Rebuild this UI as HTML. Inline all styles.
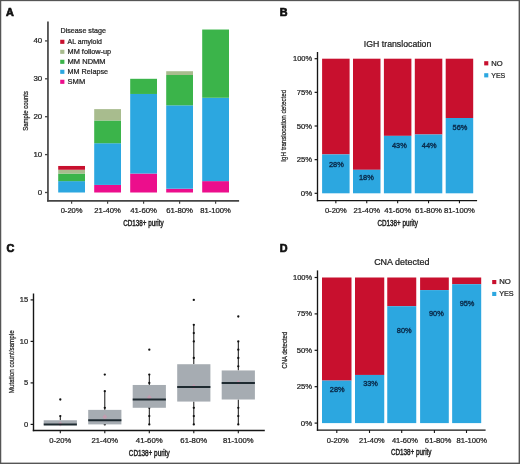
<!DOCTYPE html>
<html><head><meta charset="utf-8"><style>
html,body{margin:0;padding:0;background:#fff;}
svg{display:block;will-change:transform;}
text{font-family:"Liberation Sans",sans-serif;}
</style></head><body>
<svg width="520" height="464" viewBox="0 0 520 464" shape-rendering="auto">
<rect x="0" y="0" width="520" height="464" fill="#fff"/>
<text x="6.10" y="15.90" font-size="10.8" text-anchor="start" fill="#111" font-weight="bold" stroke="#111" stroke-width="0.7">A</text>
<line x1="47.95" y1="21.50" x2="47.95" y2="201.60" stroke="#444" stroke-width="1.7"/>
<line x1="47.10" y1="200.80" x2="239.10" y2="200.80" stroke="#444" stroke-width="1.8"/>
<line x1="45.00" y1="192.50" x2="47.95" y2="192.50" stroke="#444" stroke-width="1.3"/>
<text x="42.20" y="195.00" font-size="7" text-anchor="end" fill="#262626" font-weight="normal" textLength="4.40" lengthAdjust="spacingAndGlyphs" stroke="#262626" stroke-width="0.24">0</text>
<line x1="45.00" y1="154.60" x2="47.95" y2="154.60" stroke="#444" stroke-width="1.3"/>
<text x="42.20" y="157.10" font-size="7" text-anchor="end" fill="#262626" font-weight="normal" textLength="8.80" lengthAdjust="spacingAndGlyphs" stroke="#262626" stroke-width="0.24">10</text>
<line x1="45.00" y1="116.70" x2="47.95" y2="116.70" stroke="#444" stroke-width="1.3"/>
<text x="42.20" y="119.20" font-size="7" text-anchor="end" fill="#262626" font-weight="normal" textLength="8.80" lengthAdjust="spacingAndGlyphs" stroke="#262626" stroke-width="0.24">20</text>
<line x1="45.00" y1="78.80" x2="47.95" y2="78.80" stroke="#444" stroke-width="1.3"/>
<text x="42.20" y="81.30" font-size="7" text-anchor="end" fill="#262626" font-weight="normal" textLength="8.80" lengthAdjust="spacingAndGlyphs" stroke="#262626" stroke-width="0.24">30</text>
<line x1="45.00" y1="40.90" x2="47.95" y2="40.90" stroke="#444" stroke-width="1.3"/>
<text x="42.20" y="43.40" font-size="7" text-anchor="end" fill="#262626" font-weight="normal" textLength="8.80" lengthAdjust="spacingAndGlyphs" stroke="#262626" stroke-width="0.24">40</text>
<rect x="58.20" y="181.13" width="26.80" height="11.37" fill="#2CA7E0"/>
<rect x="58.20" y="173.55" width="26.80" height="7.58" fill="#3BB44A"/>
<rect x="58.20" y="169.76" width="26.80" height="3.79" fill="#A8BC8E"/>
<rect x="58.20" y="165.97" width="26.80" height="3.79" fill="#C8102E"/>
<line x1="71.60" y1="200.80" x2="71.60" y2="203.80" stroke="#444" stroke-width="1.2"/>
<text x="71.60" y="213.30" font-size="7" text-anchor="middle" fill="#262626" font-weight="normal" textLength="21.90" lengthAdjust="spacingAndGlyphs" stroke="#262626" stroke-width="0.24">0-20%</text>
<rect x="94.20" y="184.92" width="26.80" height="7.58" fill="#EC0E8C"/>
<rect x="94.20" y="143.23" width="26.80" height="41.69" fill="#2CA7E0"/>
<rect x="94.20" y="120.49" width="26.80" height="22.74" fill="#3BB44A"/>
<rect x="94.20" y="109.12" width="26.80" height="11.37" fill="#A8BC8E"/>
<line x1="107.60" y1="200.80" x2="107.60" y2="203.80" stroke="#444" stroke-width="1.2"/>
<text x="107.60" y="213.30" font-size="7" text-anchor="middle" fill="#262626" font-weight="normal" textLength="26.50" lengthAdjust="spacingAndGlyphs" stroke="#262626" stroke-width="0.24">21-40%</text>
<rect x="130.20" y="173.55" width="26.80" height="18.95" fill="#EC0E8C"/>
<rect x="130.20" y="93.96" width="26.80" height="79.59" fill="#2CA7E0"/>
<rect x="130.20" y="78.80" width="26.80" height="15.16" fill="#3BB44A"/>
<line x1="143.60" y1="200.80" x2="143.60" y2="203.80" stroke="#444" stroke-width="1.2"/>
<text x="143.60" y="213.30" font-size="7" text-anchor="middle" fill="#262626" font-weight="normal" textLength="26.90" lengthAdjust="spacingAndGlyphs" stroke="#262626" stroke-width="0.24">41-60%</text>
<rect x="166.20" y="188.71" width="26.80" height="3.79" fill="#EC0E8C"/>
<rect x="166.20" y="105.33" width="26.80" height="83.38" fill="#2CA7E0"/>
<rect x="166.20" y="75.01" width="26.80" height="30.32" fill="#3BB44A"/>
<rect x="166.20" y="71.22" width="26.80" height="3.79" fill="#A8BC8E"/>
<line x1="179.60" y1="200.80" x2="179.60" y2="203.80" stroke="#444" stroke-width="1.2"/>
<text x="179.60" y="213.30" font-size="7" text-anchor="middle" fill="#262626" font-weight="normal" textLength="26.90" lengthAdjust="spacingAndGlyphs" stroke="#262626" stroke-width="0.24">61-80%</text>
<rect x="202.20" y="181.13" width="26.80" height="11.37" fill="#EC0E8C"/>
<rect x="202.20" y="97.75" width="26.80" height="83.38" fill="#2CA7E0"/>
<rect x="202.20" y="29.53" width="26.80" height="68.22" fill="#3BB44A"/>
<line x1="215.60" y1="200.80" x2="215.60" y2="203.80" stroke="#444" stroke-width="1.2"/>
<text x="215.60" y="213.30" font-size="7" text-anchor="middle" fill="#262626" font-weight="normal" textLength="30.70" lengthAdjust="spacingAndGlyphs" stroke="#262626" stroke-width="0.24">81-100%</text>
<text x="143.45" y="225.90" font-size="8.2" text-anchor="middle" fill="#222" font-weight="normal" textLength="40.40" lengthAdjust="spacingAndGlyphs" stroke="#222" stroke-width="0.42">CD138+ purity</text>
<text x="28.00" y="110.90" font-size="7.9" text-anchor="middle" fill="#222" font-weight="normal" textLength="39.60" lengthAdjust="spacingAndGlyphs" transform="rotate(-90 28.00 110.90)" stroke="#222" stroke-width="0.24">Sample counts</text>
<text x="60.50" y="32.60" font-size="7.1" text-anchor="start" fill="#262626" font-weight="normal" textLength="45.40" lengthAdjust="spacingAndGlyphs" stroke="#262626" stroke-width="0.24">Disease stage</text>
<rect x="60.20" y="39.75" width="4.20" height="4.10" fill="#C8102E"/>
<text x="67.60" y="44.40" font-size="7.3" text-anchor="start" fill="#262626" font-weight="normal" textLength="34.30" lengthAdjust="spacingAndGlyphs" stroke="#262626" stroke-width="0.24">AL amyloid</text>
<rect x="60.20" y="49.75" width="4.20" height="4.10" fill="#A8BC8E"/>
<text x="67.60" y="54.40" font-size="7.3" text-anchor="start" fill="#262626" font-weight="normal" textLength="43.60" lengthAdjust="spacingAndGlyphs" stroke="#262626" stroke-width="0.24">MM follow-up</text>
<rect x="60.20" y="59.75" width="4.20" height="4.10" fill="#3BB44A"/>
<text x="67.60" y="64.40" font-size="7.3" text-anchor="start" fill="#262626" font-weight="normal" textLength="38.00" lengthAdjust="spacingAndGlyphs" stroke="#262626" stroke-width="0.24">MM NDMM</text>
<rect x="60.20" y="69.75" width="4.20" height="4.10" fill="#2CA7E0"/>
<text x="67.60" y="74.40" font-size="7.3" text-anchor="start" fill="#262626" font-weight="normal" textLength="40.50" lengthAdjust="spacingAndGlyphs" stroke="#262626" stroke-width="0.24">MM Relapse</text>
<rect x="60.20" y="79.75" width="4.20" height="4.10" fill="#EC0E8C"/>
<text x="67.60" y="84.40" font-size="7.3" text-anchor="start" fill="#262626" font-weight="normal" textLength="17.60" lengthAdjust="spacingAndGlyphs" stroke="#262626" stroke-width="0.24">SMM</text>
<text x="279.70" y="15.90" font-size="10.8" text-anchor="start" fill="#111" font-weight="bold" stroke="#111" stroke-width="0.7">B</text>
<line x1="317.50" y1="52.00" x2="317.50" y2="201.30" stroke="#151515" stroke-width="1.35"/>
<line x1="316.85" y1="200.65" x2="477.10" y2="200.65" stroke="#151515" stroke-width="1.35"/>
<line x1="314.60" y1="193.30" x2="317.50" y2="193.30" stroke="#151515" stroke-width="1.2"/>
<text x="312.20" y="195.80" font-size="7" text-anchor="end" fill="#262626" font-weight="normal" textLength="11.40" lengthAdjust="spacingAndGlyphs" stroke="#262626" stroke-width="0.24">0%</text>
<line x1="314.60" y1="159.65" x2="317.50" y2="159.65" stroke="#151515" stroke-width="1.2"/>
<text x="312.20" y="162.15" font-size="7" text-anchor="end" fill="#262626" font-weight="normal" textLength="15.40" lengthAdjust="spacingAndGlyphs" stroke="#262626" stroke-width="0.24">25%</text>
<line x1="314.60" y1="126.00" x2="317.50" y2="126.00" stroke="#151515" stroke-width="1.2"/>
<text x="312.20" y="128.50" font-size="7" text-anchor="end" fill="#262626" font-weight="normal" textLength="15.40" lengthAdjust="spacingAndGlyphs" stroke="#262626" stroke-width="0.24">50%</text>
<line x1="314.60" y1="92.35" x2="317.50" y2="92.35" stroke="#151515" stroke-width="1.2"/>
<text x="312.20" y="94.85" font-size="7" text-anchor="end" fill="#262626" font-weight="normal" textLength="15.40" lengthAdjust="spacingAndGlyphs" stroke="#262626" stroke-width="0.24">75%</text>
<line x1="314.60" y1="58.70" x2="317.50" y2="58.70" stroke="#151515" stroke-width="1.2"/>
<text x="312.20" y="61.20" font-size="7" text-anchor="end" fill="#262626" font-weight="normal" textLength="19.20" lengthAdjust="spacingAndGlyphs" stroke="#262626" stroke-width="0.24">100%</text>
<rect x="322.10" y="58.70" width="27.50" height="95.70" fill="#C8102E"/>
<rect x="322.10" y="154.40" width="27.50" height="38.90" fill="#2CA7E0"/>
<text x="336.40" y="166.80" font-size="7.2" text-anchor="middle" fill="#0a2c4c" font-weight="normal" textLength="14.80" lengthAdjust="spacingAndGlyphs" stroke="#0a2c4c" stroke-width="0.38">28%</text>
<line x1="335.85" y1="200.65" x2="335.85" y2="203.30" stroke="#151515" stroke-width="1.1"/>
<text x="335.85" y="213.30" font-size="7" text-anchor="middle" fill="#262626" font-weight="normal" textLength="21.90" lengthAdjust="spacingAndGlyphs" stroke="#262626" stroke-width="0.24">0-20%</text>
<rect x="353.00" y="58.70" width="27.50" height="111.10" fill="#C8102E"/>
<rect x="353.00" y="169.80" width="27.50" height="23.50" fill="#2CA7E0"/>
<text x="366.40" y="180.05" font-size="7.2" text-anchor="middle" fill="#0a2c4c" font-weight="normal" textLength="14.80" lengthAdjust="spacingAndGlyphs" stroke="#0a2c4c" stroke-width="0.38">18%</text>
<line x1="366.75" y1="200.65" x2="366.75" y2="203.30" stroke="#151515" stroke-width="1.1"/>
<text x="366.75" y="213.30" font-size="7" text-anchor="middle" fill="#262626" font-weight="normal" textLength="26.50" lengthAdjust="spacingAndGlyphs" stroke="#262626" stroke-width="0.24">21-40%</text>
<rect x="383.90" y="58.70" width="27.50" height="77.15" fill="#C8102E"/>
<rect x="383.90" y="135.85" width="27.50" height="57.45" fill="#2CA7E0"/>
<text x="399.40" y="147.50" font-size="7.2" text-anchor="middle" fill="#0a2c4c" font-weight="normal" textLength="14.80" lengthAdjust="spacingAndGlyphs" stroke="#0a2c4c" stroke-width="0.38">43%</text>
<line x1="397.65" y1="200.65" x2="397.65" y2="203.30" stroke="#151515" stroke-width="1.1"/>
<text x="397.65" y="213.30" font-size="7" text-anchor="middle" fill="#262626" font-weight="normal" textLength="26.90" lengthAdjust="spacingAndGlyphs" stroke="#262626" stroke-width="0.24">41-60%</text>
<rect x="414.80" y="58.70" width="27.50" height="75.80" fill="#C8102E"/>
<rect x="414.80" y="134.50" width="27.50" height="58.80" fill="#2CA7E0"/>
<text x="429.25" y="147.75" font-size="7.2" text-anchor="middle" fill="#0a2c4c" font-weight="normal" textLength="14.80" lengthAdjust="spacingAndGlyphs" stroke="#0a2c4c" stroke-width="0.38">44%</text>
<line x1="428.55" y1="200.65" x2="428.55" y2="203.30" stroke="#151515" stroke-width="1.1"/>
<text x="428.55" y="213.30" font-size="7" text-anchor="middle" fill="#262626" font-weight="normal" textLength="26.90" lengthAdjust="spacingAndGlyphs" stroke="#262626" stroke-width="0.24">61-80%</text>
<rect x="445.70" y="58.70" width="27.50" height="59.30" fill="#C8102E"/>
<rect x="445.70" y="118.00" width="27.50" height="75.30" fill="#2CA7E0"/>
<text x="460.00" y="130.10" font-size="7.2" text-anchor="middle" fill="#0a2c4c" font-weight="normal" textLength="14.80" lengthAdjust="spacingAndGlyphs" stroke="#0a2c4c" stroke-width="0.38">56%</text>
<line x1="459.45" y1="200.65" x2="459.45" y2="203.30" stroke="#151515" stroke-width="1.1"/>
<text x="459.45" y="213.30" font-size="7" text-anchor="middle" fill="#262626" font-weight="normal" textLength="30.70" lengthAdjust="spacingAndGlyphs" stroke="#262626" stroke-width="0.24">81-100%</text>
<text x="397.60" y="46.80" font-size="8.8" text-anchor="middle" fill="#222" font-weight="normal" textLength="67.50" lengthAdjust="spacingAndGlyphs" stroke="#222" stroke-width="0.24">IGH translocation</text>
<text x="397.65" y="225.90" font-size="8.2" text-anchor="middle" fill="#222" font-weight="normal" textLength="40.30" lengthAdjust="spacingAndGlyphs" stroke="#222" stroke-width="0.42">CD138+ purity</text>
<text x="286.40" y="125.80" font-size="7.8" text-anchor="middle" fill="#222" font-weight="normal" textLength="71.80" lengthAdjust="spacingAndGlyphs" transform="rotate(-90 286.40 125.80)" stroke="#222" stroke-width="0.24">IgH translocation detected</text>
<rect x="484.20" y="61.20" width="4.10" height="4.20" fill="#C8102E"/>
<text x="491.20" y="65.60" font-size="7.4" text-anchor="start" fill="#262626" font-weight="normal" textLength="11.40" lengthAdjust="spacingAndGlyphs" stroke="#262626" stroke-width="0.24">NO</text>
<rect x="484.20" y="73.20" width="4.10" height="4.20" fill="#2CA7E0"/>
<text x="491.20" y="77.60" font-size="7.4" text-anchor="start" fill="#262626" font-weight="normal" textLength="14.10" lengthAdjust="spacingAndGlyphs" stroke="#262626" stroke-width="0.24">YES</text>
<text x="6.50" y="251.60" font-size="10.8" text-anchor="start" fill="#111" font-weight="bold" stroke="#111" stroke-width="0.7">C</text>
<line x1="33.50" y1="293.50" x2="33.50" y2="431.20" stroke="#151515" stroke-width="1.4"/>
<line x1="32.80" y1="430.50" x2="264.80" y2="430.50" stroke="#151515" stroke-width="1.4"/>
<line x1="30.60" y1="424.40" x2="33.50" y2="424.40" stroke="#151515" stroke-width="1.2"/>
<text x="28.10" y="426.90" font-size="7" text-anchor="end" fill="#262626" font-weight="normal" textLength="4.20" lengthAdjust="spacingAndGlyphs" stroke="#262626" stroke-width="0.24">0</text>
<line x1="30.60" y1="382.90" x2="33.50" y2="382.90" stroke="#151515" stroke-width="1.2"/>
<text x="28.10" y="385.40" font-size="7" text-anchor="end" fill="#262626" font-weight="normal" textLength="4.20" lengthAdjust="spacingAndGlyphs" stroke="#262626" stroke-width="0.24">5</text>
<line x1="30.60" y1="341.40" x2="33.50" y2="341.40" stroke="#151515" stroke-width="1.2"/>
<text x="28.10" y="343.90" font-size="7" text-anchor="end" fill="#262626" font-weight="normal" textLength="8.40" lengthAdjust="spacingAndGlyphs" stroke="#262626" stroke-width="0.24">10</text>
<line x1="30.60" y1="299.90" x2="33.50" y2="299.90" stroke="#151515" stroke-width="1.2"/>
<text x="28.10" y="302.40" font-size="7" text-anchor="end" fill="#262626" font-weight="normal" textLength="8.40" lengthAdjust="spacingAndGlyphs" stroke="#262626" stroke-width="0.24">15</text>
<circle cx="60.30" cy="416.10" r="1.15" fill="#111"/>
<circle cx="60.30" cy="399.50" r="1.15" fill="#111"/>
<line x1="60.30" y1="416.10" x2="60.30" y2="420.25" stroke="#111" stroke-width="1.0"/>
<line x1="60.30" y1="424.40" x2="60.30" y2="424.40" stroke="#111" stroke-width="1.0"/>
<rect x="43.70" y="420.25" width="33.20" height="4.15" fill="#A6ACB2"/>
<path d="M60.30 421.38 L62.70 423.98 L60.30 426.58 L57.90 423.98 Z" fill="#E58AAE" fill-opacity="0.45"/>
<line x1="43.70" y1="424.40" x2="76.90" y2="424.40" stroke="#1E2A30" stroke-width="2.0"/>
<line x1="60.30" y1="430.50" x2="60.30" y2="433.20" stroke="#151515" stroke-width="1.1"/>
<text x="60.30" y="443.10" font-size="7" text-anchor="middle" fill="#262626" font-weight="normal" textLength="21.90" lengthAdjust="spacingAndGlyphs" stroke="#262626" stroke-width="0.24">0-20%</text>
<circle cx="104.80" cy="424.40" r="1.15" fill="#111"/>
<circle cx="104.80" cy="416.10" r="1.15" fill="#111"/>
<circle cx="104.80" cy="407.80" r="1.15" fill="#111"/>
<circle cx="104.80" cy="391.20" r="1.15" fill="#111"/>
<circle cx="104.80" cy="374.60" r="1.15" fill="#111"/>
<line x1="104.80" y1="391.20" x2="104.80" y2="409.88" stroke="#111" stroke-width="1.0"/>
<line x1="104.80" y1="424.40" x2="104.80" y2="424.40" stroke="#111" stroke-width="1.0"/>
<rect x="88.20" y="409.88" width="33.20" height="14.52" fill="#A6ACB2"/>
<path d="M104.80 414.33 L107.20 416.93 L104.80 419.53 L102.40 416.93 Z" fill="#E58AAE" fill-opacity="0.45"/>
<line x1="88.20" y1="420.25" x2="121.40" y2="420.25" stroke="#1E2A30" stroke-width="2.0"/>
<line x1="104.80" y1="430.50" x2="104.80" y2="433.20" stroke="#151515" stroke-width="1.1"/>
<text x="104.80" y="443.10" font-size="7" text-anchor="middle" fill="#262626" font-weight="normal" textLength="26.50" lengthAdjust="spacingAndGlyphs" stroke="#262626" stroke-width="0.24">21-40%</text>
<circle cx="149.30" cy="424.40" r="1.15" fill="#111"/>
<circle cx="149.30" cy="416.10" r="1.15" fill="#111"/>
<circle cx="149.30" cy="407.80" r="1.15" fill="#111"/>
<circle cx="149.30" cy="382.90" r="1.15" fill="#111"/>
<circle cx="149.30" cy="374.60" r="1.15" fill="#111"/>
<circle cx="149.30" cy="349.70" r="1.15" fill="#111"/>
<line x1="149.30" y1="374.60" x2="149.30" y2="384.97" stroke="#111" stroke-width="1.0"/>
<line x1="149.30" y1="407.80" x2="149.30" y2="424.40" stroke="#111" stroke-width="1.0"/>
<rect x="132.70" y="384.97" width="33.20" height="22.82" fill="#A6ACB2"/>
<path d="M149.30 394.82 L151.70 397.42 L149.30 400.02 L146.90 397.42 Z" fill="#E58AAE" fill-opacity="0.45"/>
<line x1="132.70" y1="399.50" x2="165.90" y2="399.50" stroke="#1E2A30" stroke-width="2.0"/>
<line x1="149.30" y1="430.50" x2="149.30" y2="433.20" stroke="#151515" stroke-width="1.1"/>
<text x="149.30" y="443.10" font-size="7" text-anchor="middle" fill="#262626" font-weight="normal" textLength="26.90" lengthAdjust="spacingAndGlyphs" stroke="#262626" stroke-width="0.24">41-60%</text>
<circle cx="193.80" cy="424.40" r="1.15" fill="#111"/>
<circle cx="193.80" cy="416.10" r="1.15" fill="#111"/>
<circle cx="193.80" cy="407.80" r="1.15" fill="#111"/>
<circle cx="193.80" cy="358.00" r="1.15" fill="#111"/>
<circle cx="193.80" cy="341.40" r="1.15" fill="#111"/>
<circle cx="193.80" cy="333.10" r="1.15" fill="#111"/>
<circle cx="193.80" cy="324.80" r="1.15" fill="#111"/>
<circle cx="193.80" cy="299.90" r="1.15" fill="#111"/>
<line x1="193.80" y1="324.80" x2="193.80" y2="364.22" stroke="#111" stroke-width="1.0"/>
<line x1="193.80" y1="401.57" x2="193.80" y2="424.40" stroke="#111" stroke-width="1.0"/>
<rect x="177.20" y="364.22" width="33.20" height="37.35" fill="#A6ACB2"/>
<path d="M193.80 384.03 L196.20 386.63 L193.80 389.24 L191.40 386.63 Z" fill="#E58AAE" fill-opacity="0.45"/>
<line x1="177.20" y1="387.05" x2="210.40" y2="387.05" stroke="#1E2A30" stroke-width="2.0"/>
<line x1="193.80" y1="430.50" x2="193.80" y2="433.20" stroke="#151515" stroke-width="1.1"/>
<text x="193.80" y="443.10" font-size="7" text-anchor="middle" fill="#262626" font-weight="normal" textLength="26.90" lengthAdjust="spacingAndGlyphs" stroke="#262626" stroke-width="0.24">61-80%</text>
<circle cx="238.30" cy="424.40" r="1.15" fill="#111"/>
<circle cx="238.30" cy="416.10" r="1.15" fill="#111"/>
<circle cx="238.30" cy="407.80" r="1.15" fill="#111"/>
<circle cx="238.30" cy="366.30" r="1.15" fill="#111"/>
<circle cx="238.30" cy="358.00" r="1.15" fill="#111"/>
<circle cx="238.30" cy="349.70" r="1.15" fill="#111"/>
<circle cx="238.30" cy="341.40" r="1.15" fill="#111"/>
<circle cx="238.30" cy="316.50" r="1.15" fill="#111"/>
<line x1="238.30" y1="341.40" x2="238.30" y2="370.45" stroke="#111" stroke-width="1.0"/>
<line x1="238.30" y1="399.50" x2="238.30" y2="424.40" stroke="#111" stroke-width="1.0"/>
<rect x="221.70" y="370.45" width="33.20" height="29.05" fill="#A6ACB2"/>
<path d="M238.30 379.80 L240.70 382.40 L238.30 385.00 L235.90 382.40 Z" fill="#E58AAE" fill-opacity="0.45"/>
<line x1="221.70" y1="382.90" x2="254.90" y2="382.90" stroke="#1E2A30" stroke-width="2.0"/>
<line x1="238.30" y1="430.50" x2="238.30" y2="433.20" stroke="#151515" stroke-width="1.1"/>
<text x="238.30" y="443.10" font-size="7" text-anchor="middle" fill="#262626" font-weight="normal" textLength="30.70" lengthAdjust="spacingAndGlyphs" stroke="#262626" stroke-width="0.24">81-100%</text>
<text x="149.25" y="455.50" font-size="8.2" text-anchor="middle" fill="#222" font-weight="normal" textLength="40.90" lengthAdjust="spacingAndGlyphs" stroke="#222" stroke-width="0.42">CD138+ purity</text>
<text x="13.70" y="361.80" font-size="7.8" text-anchor="middle" fill="#222" font-weight="normal" textLength="63.00" lengthAdjust="spacingAndGlyphs" transform="rotate(-90 13.70 361.80)" stroke="#222" stroke-width="0.24">Mutation count/sample</text>
<text x="279.70" y="251.60" font-size="10.8" text-anchor="start" fill="#111" font-weight="bold" stroke="#111" stroke-width="0.7">D</text>
<line x1="317.50" y1="270.40" x2="317.50" y2="430.80" stroke="#151515" stroke-width="1.35"/>
<line x1="316.85" y1="430.10" x2="485.60" y2="430.10" stroke="#151515" stroke-width="1.35"/>
<line x1="314.60" y1="423.10" x2="317.50" y2="423.10" stroke="#151515" stroke-width="1.2"/>
<text x="312.20" y="425.60" font-size="7" text-anchor="end" fill="#262626" font-weight="normal" textLength="11.40" lengthAdjust="spacingAndGlyphs" stroke="#262626" stroke-width="0.24">0%</text>
<line x1="314.60" y1="386.70" x2="317.50" y2="386.70" stroke="#151515" stroke-width="1.2"/>
<text x="312.20" y="389.20" font-size="7" text-anchor="end" fill="#262626" font-weight="normal" textLength="15.40" lengthAdjust="spacingAndGlyphs" stroke="#262626" stroke-width="0.24">25%</text>
<line x1="314.60" y1="350.30" x2="317.50" y2="350.30" stroke="#151515" stroke-width="1.2"/>
<text x="312.20" y="352.80" font-size="7" text-anchor="end" fill="#262626" font-weight="normal" textLength="15.40" lengthAdjust="spacingAndGlyphs" stroke="#262626" stroke-width="0.24">50%</text>
<line x1="314.60" y1="313.90" x2="317.50" y2="313.90" stroke="#151515" stroke-width="1.2"/>
<text x="312.20" y="316.40" font-size="7" text-anchor="end" fill="#262626" font-weight="normal" textLength="15.40" lengthAdjust="spacingAndGlyphs" stroke="#262626" stroke-width="0.24">75%</text>
<line x1="314.60" y1="277.50" x2="317.50" y2="277.50" stroke="#151515" stroke-width="1.2"/>
<text x="312.20" y="280.00" font-size="7" text-anchor="end" fill="#262626" font-weight="normal" textLength="19.20" lengthAdjust="spacingAndGlyphs" stroke="#262626" stroke-width="0.24">100%</text>
<rect x="322.00" y="277.50" width="29.50" height="103.10" fill="#C8102E"/>
<rect x="322.00" y="380.60" width="29.50" height="42.50" fill="#2CA7E0"/>
<text x="337.20" y="392.15" font-size="7.2" text-anchor="middle" fill="#0a2c4c" font-weight="normal" textLength="14.80" lengthAdjust="spacingAndGlyphs" stroke="#0a2c4c" stroke-width="0.38">28%</text>
<line x1="336.80" y1="430.10" x2="336.80" y2="433.00" stroke="#151515" stroke-width="1.1"/>
<text x="337.75" y="443.00" font-size="7" text-anchor="middle" fill="#262626" font-weight="normal" textLength="21.90" lengthAdjust="spacingAndGlyphs" stroke="#262626" stroke-width="0.24">0-20%</text>
<rect x="355.00" y="277.50" width="29.25" height="97.45" fill="#C8102E"/>
<rect x="355.00" y="374.95" width="29.25" height="48.15" fill="#2CA7E0"/>
<text x="370.55" y="386.40" font-size="7.2" text-anchor="middle" fill="#0a2c4c" font-weight="normal" textLength="14.80" lengthAdjust="spacingAndGlyphs" stroke="#0a2c4c" stroke-width="0.38">33%</text>
<line x1="369.50" y1="430.10" x2="369.50" y2="433.00" stroke="#151515" stroke-width="1.1"/>
<text x="371.85" y="443.00" font-size="7" text-anchor="middle" fill="#262626" font-weight="normal" textLength="25.60" lengthAdjust="spacingAndGlyphs" stroke="#262626" stroke-width="0.24">21-40%</text>
<rect x="387.25" y="277.50" width="29.00" height="28.70" fill="#C8102E"/>
<rect x="387.25" y="306.20" width="29.00" height="116.90" fill="#2CA7E0"/>
<text x="404.20" y="333.10" font-size="7.2" text-anchor="middle" fill="#0a2c4c" font-weight="normal" textLength="14.80" lengthAdjust="spacingAndGlyphs" stroke="#0a2c4c" stroke-width="0.38">80%</text>
<line x1="401.70" y1="430.10" x2="401.70" y2="433.00" stroke="#151515" stroke-width="1.1"/>
<text x="404.90" y="443.00" font-size="7" text-anchor="middle" fill="#262626" font-weight="normal" textLength="26.00" lengthAdjust="spacingAndGlyphs" stroke="#262626" stroke-width="0.24">41-60%</text>
<rect x="420.10" y="277.50" width="28.70" height="12.60" fill="#C8102E"/>
<rect x="420.10" y="290.10" width="28.70" height="133.00" fill="#2CA7E0"/>
<text x="436.35" y="315.75" font-size="7.2" text-anchor="middle" fill="#0a2c4c" font-weight="normal" textLength="14.80" lengthAdjust="spacingAndGlyphs" stroke="#0a2c4c" stroke-width="0.38">90%</text>
<line x1="434.40" y1="430.10" x2="434.40" y2="433.00" stroke="#151515" stroke-width="1.1"/>
<text x="438.15" y="443.00" font-size="7" text-anchor="middle" fill="#262626" font-weight="normal" textLength="26.60" lengthAdjust="spacingAndGlyphs" stroke="#262626" stroke-width="0.24">61-80%</text>
<rect x="452.15" y="277.50" width="29.05" height="6.70" fill="#C8102E"/>
<rect x="452.15" y="284.20" width="29.05" height="138.90" fill="#2CA7E0"/>
<text x="467.05" y="306.30" font-size="7.2" text-anchor="middle" fill="#0a2c4c" font-weight="normal" textLength="14.80" lengthAdjust="spacingAndGlyphs" stroke="#0a2c4c" stroke-width="0.38">95%</text>
<line x1="466.50" y1="430.10" x2="466.50" y2="433.00" stroke="#151515" stroke-width="1.1"/>
<text x="471.85" y="443.00" font-size="7" text-anchor="middle" fill="#262626" font-weight="normal" textLength="30.60" lengthAdjust="spacingAndGlyphs" stroke="#262626" stroke-width="0.24">81-100%</text>
<text x="401.80" y="264.90" font-size="8.8" text-anchor="middle" fill="#222" font-weight="normal" textLength="55.30" lengthAdjust="spacingAndGlyphs" stroke="#222" stroke-width="0.24">CNA detected</text>
<text x="411.20" y="454.60" font-size="8.2" text-anchor="middle" fill="#222" font-weight="normal" textLength="40.60" lengthAdjust="spacingAndGlyphs" stroke="#222" stroke-width="0.42">CD138+ purity</text>
<text x="286.60" y="350.20" font-size="8.0" text-anchor="middle" fill="#222" font-weight="normal" textLength="36.80" lengthAdjust="spacingAndGlyphs" transform="rotate(-90 286.60 350.20)" stroke="#222" stroke-width="0.24">CNA detected</text>
<rect x="492.20" y="280.00" width="4.10" height="4.10" fill="#C8102E"/>
<text x="499.20" y="284.30" font-size="7.2" text-anchor="start" fill="#262626" font-weight="normal" textLength="11.60" lengthAdjust="spacingAndGlyphs" stroke="#262626" stroke-width="0.24">NO</text>
<rect x="492.20" y="291.90" width="4.10" height="4.10" fill="#2CA7E0"/>
<text x="499.20" y="296.30" font-size="7.2" text-anchor="start" fill="#262626" font-weight="normal" textLength="14.50" lengthAdjust="spacingAndGlyphs" stroke="#262626" stroke-width="0.24">YES</text>
<rect x="0.00" y="0.00" width="520.00" height="1.15" fill="#555"/>
<rect x="0.00" y="0.00" width="1.25" height="464.00" fill="#555"/>
<rect x="518.60" y="0.00" width="1.40" height="464.00" fill="#555"/>
<rect x="0.00" y="462.60" width="520.00" height="1.40" fill="#555"/>
</svg>
</body></html>
